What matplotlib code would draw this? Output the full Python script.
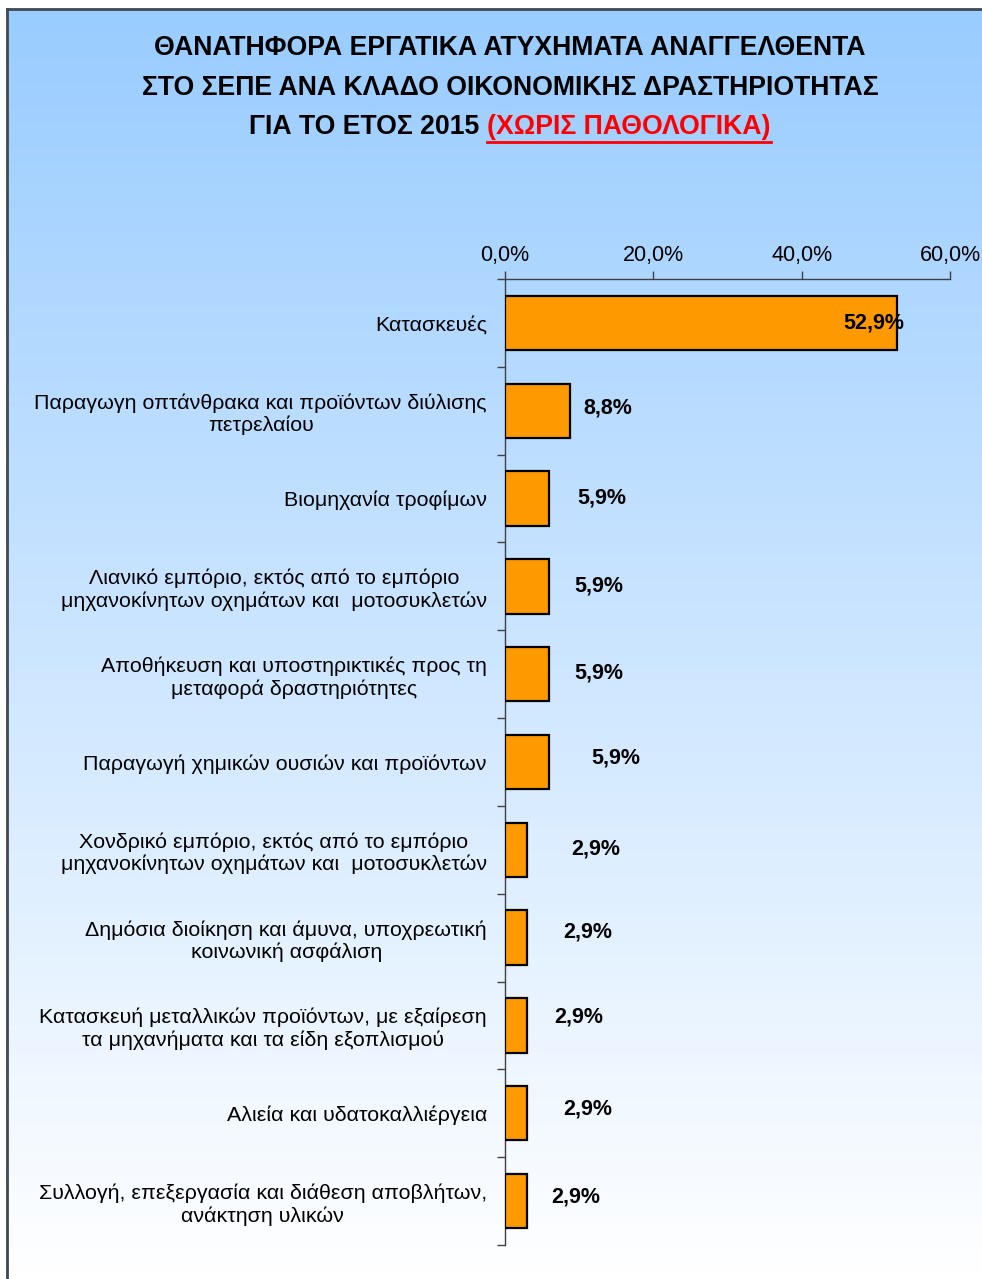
import matplotlib.pyplot as plt
import matplotlib.ticker as mticker
import numpy as np
from matplotlib.colors import LinearSegmentedColormap

categories = [
    "Κατασκευές",
    "Παραγωγη οπτάνθρακα και προϊόντων διύλισης\nπετρελαίου",
    "Βιομηχανία τροφίμων",
    "Λιανικό εμπόριο, εκτός από το εμπόριο\nμηχανοκίνητων οχημάτων και  μοτοσυκλετών",
    "Αποθήκευση και υποστηρικτικές προς τη\nμεταφορά δραστηριότητες",
    "Παραγωγή χημικών ουσιών και προϊόντων",
    "Χονδρικό εμπόριο, εκτός από το εμπόριο\nμηχανοκίνητων οχημάτων και  μοτοσυκλετών",
    "Δημόσια διοίκηση και άμυνα, υποχρεωτική\nκοινωνική ασφάλιση",
    "Κατασκευή μεταλλικών προϊόντων, με εξαίρεση\nτα μηχανήματα και τα είδη εξοπλισμού",
    "Αλιεία και υδατοκαλλιέργεια",
    "Συλλογή, επεξεργασία και διάθεση αποβλήτων,\nανάκτηση υλικών",
]
values = [52.9, 8.8, 5.9, 5.9, 5.9, 5.9, 2.9, 2.9, 2.9, 2.9, 2.9]
# where Excel left each data label (x in %, small y shift in category units)
label_x = [49.7, 13.8, 13.1, 12.6, 12.6, 14.9, 12.2, 11.2, 10.0, 11.1, 9.5]
label_dy = [0.0, -0.03, -0.01, 0.0, -0.01, -0.05, -0.01, -0.06, -0.1, -0.05, -0.05]
xticks = [0, 20, 40, 60]

plt.rcParams['font.family'] = ['Liberation Sans', 'DejaVu Sans']

fig = plt.figure(figsize=(9.82, 12.79), dpi=100)

# gradient background with dark frame on top/left
bg = fig.add_axes([7 / 982, 0, 1 - 7 / 982, 1 - 9 / 1279])
cmap = LinearSegmentedColormap.from_list('bg', ['#99CCFF', '#FFFFFF'])
grad = np.linspace(0, 1, 256).reshape(-1, 1)
bg.imshow(grad, aspect='auto', cmap=cmap, extent=[0, 1, 0, 1], origin='upper')
bg.set_xlim(0, 1)
bg.set_ylim(0, 1)
bg.set_xticks([])
bg.set_yticks([])
for s in ['right', 'bottom']:
    bg.spines[s].set_visible(False)
for s in ['top', 'left']:
    bg.spines[s].set_color('#404850')
    bg.spines[s].set_linewidth(2)

ax = fig.add_axes([505 / 982, 1 - 1245 / 1279, (950 - 505) / 982, (1245 - 279) / 1279])
ax.patch.set_visible(False)

y = np.arange(len(categories))
ax.barh(y, values, height=0.62, color='#FF9900', edgecolor='black', linewidth=1.6, zorder=3)

for i, v in enumerate(values):
    txt = f"{v:.1f}".replace('.', ',') + '%'
    ax.text(label_x[i], y[i] + label_dy[i], txt, ha='center', va='center',
            fontsize=15.5, fontweight='bold', zorder=4)

ax.set_xlim(0, 60)
ax.set_ylim(len(categories) - 0.5, -0.5)
ax.xaxis.tick_top()
ax.set_xticks(xticks)
ax.xaxis.set_major_formatter(mticker.FuncFormatter(lambda v, p: f"{v:.1f}".replace('.', ',') + '%'))
ax.tick_params(axis='x', direction='out', length=6, width=1, color='#404040', pad=3.5, labelsize=15.5)

ax.set_yticks(np.arange(-0.5, len(categories)), minor=False)
ax.set_yticklabels([])
ax.set_yticks(y, minor=True)
ax.set_yticklabels(categories, minor=True, fontsize=15.4, ha='right', multialignment='center')
ax.tick_params(axis='y', which='major', direction='out', length=6, width=1, color='#404040')
ax.tick_params(axis='y', which='minor', length=0, pad=13)

for s in ['right', 'bottom']:
    ax.spines[s].set_visible(False)
for s in ['top', 'left']:
    ax.spines[s].set_color('#404040')
    ax.spines[s].set_linewidth(1)

# title
tfont = dict(family=['Liberation Sans', 'DejaVu Sans'], fontsize=19.2, fontweight='bold')
cx = 510 / 982
fig.text(cx, 1 - 48 / 1279, "ΘΑΝΑΤΗΦΟΡΑ ΕΡΓΑΤΙΚΑ ΑΤΥΧΗΜΑΤΑ ΑΝΑΓΓΕΛΘΕΝΤΑ",
         ha='center', va='center', **tfont)
fig.text(cx, 1 - 88 / 1279, "ΣΤΟ ΣΕΠΕ ΑΝΑ ΚΛΑΔΟ ΟΙΚΟΝΟΜΙΚΗΣ ΔΡΑΣΤΗΡΙΟΤΗΤΑΣ",
         ha='center', va='center', **tfont)
t1 = fig.text(0, 1 - 127 / 1279, "ΓΙΑ ΤΟ ΕΤΟΣ 2015 ", ha='left', va='center', **tfont)
t2 = fig.text(0, 1 - 127 / 1279, "(ΧΩΡΙΣ ΠΑΘΟΛΟΓΙΚΑ)", ha='left', va='center',
              color='#FF0000', **tfont)
r = fig.canvas.get_renderer()
w1 = t1.get_window_extent(r).width / fig.bbox.width
w2 = t2.get_window_extent(r).width / fig.bbox.width
x0 = cx - (w1 + w2) / 2
t1.set_x(x0)
t2.set_x(x0 + w1)
bb = t2.get_window_extent(r)
uy = (bb.y0 - 2) / fig.bbox.height
fig.add_artist(plt.Line2D([bb.x0 / fig.bbox.width, bb.x1 / fig.bbox.width], [uy, uy],
                          color='#FF0000', linewidth=2))

fig.savefig('out.png', dpi=100)
